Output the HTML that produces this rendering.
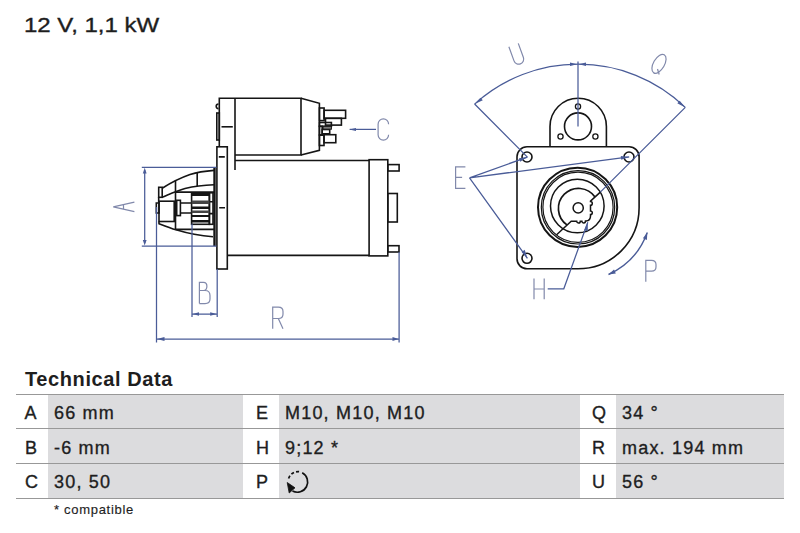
<!DOCTYPE html>
<html><head><meta charset="utf-8">
<style>
html,body{margin:0;padding:0;background:#fff;}
body{width:800px;height:533px;position:relative;overflow:hidden;font-family:"Liberation Sans",sans-serif;color:#1e1e1e;}
.t{position:absolute;white-space:nowrap;line-height:1;-webkit-text-stroke:0.35px #1e1e1e;}
.title{left:24px;top:14.5px;font-size:20px;transform:scaleX(1.2);transform-origin:0 0;}
.h2{left:25px;top:369px;font-size:20px;font-weight:bold;letter-spacing:0.6px;-webkit-text-stroke:0;}
.cell{position:absolute;background:#dcdcde;}
.hl{position:absolute;left:16px;width:767.5px;height:1.2px;background:#989898;}
.v{font-size:18px;letter-spacing:1.2px;}
.note{font-size:13px;letter-spacing:0.7px;-webkit-text-stroke:0.15px #1e1e1e;}
svg{position:absolute;left:0;top:0;}
</style></head>
<body>
<div class="t title">12 V, 1,1 kW</div>
<div class="t h2">Technical Data</div>

<div class="cell" style="left:48px;top:394px;width:194.5px;height:104px"></div>
<div class="cell" style="left:279px;top:394px;width:300.5px;height:104px"></div>
<div class="cell" style="left:616px;top:394px;width:167.5px;height:104px"></div>
<div class="hl" style="top:393.8px"></div>
<div class="hl" style="top:428.3px"></div>
<div class="hl" style="top:463px"></div>
<div class="hl" style="top:497.6px"></div>

<div id="tbl">
<div class="t v" style="left:24.5px;top:404px">A</div>
<div class="t v" style="left:54px;top:404px">66 mm</div>
<div class="t v" style="left:256px;top:404px">E</div>
<div class="t v" style="left:285px;top:404px">M10, M10, M10</div>
<div class="t v" style="left:592px;top:404px">Q</div>
<div class="t v" style="left:622px;top:404px">34 °</div>

<div class="t v" style="left:25px;top:438.8px">B</div>
<div class="t v" style="left:54px;top:438.8px">-6 mm</div>
<div class="t v" style="left:256px;top:438.8px">H</div>
<div class="t v" style="left:285px;top:438.8px">9;12 *</div>
<div class="t v" style="left:592px;top:438.8px">R</div>
<div class="t v" style="left:622px;top:438.8px">max. 194 mm</div>

<div class="t v" style="left:25px;top:472.6px">C</div>
<div class="t v" style="left:54px;top:472.6px">30, 50</div>
<div class="t v" style="left:256px;top:472.6px">P</div>
<div class="t v" style="left:592px;top:472.6px">U</div>
<div class="t v" style="left:622px;top:472.6px">56 °</div>
</div>
<div class="t note" style="left:54px;top:502.8px">* compatible</div>

<svg width="800" height="533" viewBox="0 0 800 533">
<!-- P rotation icon in table -->
<g fill="none" stroke="#111" stroke-width="1.7">
  <path d="M 288.6 478.5 A 10.2 10.2 0 0 1 300.5 471.8" stroke-dasharray="3 2.2"/>
  <path d="M 302.2 472.8 A 10.2 10.2 0 1 1 292.5 491"/>
  <path d="M 287.2 482.5 L 289.2 493 L 295 487.8 Z" fill="#111" stroke-width="0.8"/>
</g>
<!-- ===== SIDE VIEW (black) ===== -->
<g fill="none" stroke="#151515" stroke-width="1.6" stroke-linejoin="miter">
  <!-- solenoid -->
  <path d="M219.3 146.8 V98.3 H301 V155 H235"/>
  <path d="M235 98.3 V170"/>
  <path d="M301 98.3 L319.4 103.3 V150.4 L301 155"/>
  <path d="M221.5 126.8 H232.8"/>
  <path d="M218.5 104 a2.3 2.3 0 0 0 0 4.6" />
  <rect x="216.8" y="113" width="2.5" height="27"/>
  <!-- terminals -->
  <rect x="319.4" y="108" width="4.7" height="12.6"/>
  <rect x="324.1" y="110.3" width="21.5" height="8"/>
  <rect x="325.5" y="118.3" width="15.9" height="6.8"/>
  <rect x="319.4" y="122.5" width="12" height="3.8"/>
  <rect x="322.2" y="129.5" width="7.5" height="4.3"/>
  <rect x="323" y="126.3" width="8.4" height="2.9" fill="#777" stroke-width="1"/>
  <rect x="319.4" y="126.3" width="2.8" height="8.6"/>
  <rect x="319.4" y="135.2" width="4.6" height="10.3"/>
  <rect x="324" y="134.7" width="11.8" height="8"/>
  <!-- flange -->
  <rect x="216.9" y="146.8" width="10.4" height="122.2"/>
  <path d="M218.8 156.9 H224.8 M219.2 207.8 H225"/>
  <!-- motor -->
  <path d="M235 160.5 H369.1 M227.3 255.4 H369.1"/>
  <rect x="369.1" y="159.7" width="18.7" height="96.2"/>
  <rect x="387.8" y="164.6" width="11.3" height="6.4"/>
  <rect x="387.8" y="193.5" width="9.5" height="28.5"/>
  <rect x="387.8" y="245.7" width="11.2" height="6.3"/>
  <!-- nose housing -->
  <path d="M214.5 168 V246" stroke-width="2.4"/>
  <path d="M162.2 188.2 C 172 182, 180 178, 190 174.5 C 198 172, 206 171, 214 170.4"/>
  <path d="M162.2 197.3 C 170 194, 176 191, 185 188.5 C 195 186, 205 185, 214 184.7"/>
  <rect x="158.7" y="187.3" width="3.5" height="10"/>
  <path d="M158.7 197 V203"/>
  <path d="M175.5 180.7 V229.4 M197.2 172.9 V186"/>
  <path d="M175.5 192.1 H214"/>
  <rect x="159" y="201.2" width="15.2" height="20.3"/>
  <path d="M156.3 203 H159 V213 H156.3 Z"/>
  <rect x="176.7" y="200.3" width="3.7" height="15.3"/>
  <path d="M180.4 203 H191.6 M180.4 213 H191.6"/>
  <path d="M175.5 229.4 H214"/>
  <path d="M159 221.5 V223.7 C 165 226, 171 228.3, 176 229.8 C 188 233.5, 200 235.8, 213 236.7"/>
  <rect x="191.6" y="192.8" width="17.8" height="31.5"/>
  <rect x="209.4" y="192.8" width="3.6" height="31.5"/>
  <path d="M209.4 201.8 H213 M209.4 213.6 H213"/>
</g>
<!-- pinion teeth -->
<g fill="#151515">
  <rect x="191.6" y="192.8" width="17.8" height="3.2"/>
  <rect x="191.6" y="200.5" width="17.8" height="3.5" fill="#444"/>
  <rect x="191.6" y="206.5" width="17.8" height="2.5"/>
  <rect x="191.6" y="210.5" width="17.8" height="2.5" fill="#444"/>
  <rect x="191.6" y="215" width="17.8" height="2"/>
  <rect x="191.6" y="220" width="17.8" height="2.5"/>
</g>
<!-- ===== SIDE VIEW dimensions (blue) ===== -->
<g fill="none" stroke="#4a5c98" stroke-width="1.25">
  <path d="M141.8 167.4 H216.5 M141.8 246.1 H216.5"/>
  <path d="M144.7 170 V243"/>
  <path d="M156.5 207 V342.5 M156.5 339 H399.1 M399.1 252 V342.5"/>
  <path d="M192 223.7 V317 M192 314 H217.2 M217.2 269 V317"/>
  <path d="M349.7 129.4 H376"/>
</g>
<g fill="#4a5c98">
  <path d="M144.7 167.8 L142.8 173.5 H146.6 Z"/>
  <path d="M144.7 245.6 L142.8 239.9 H146.6 Z"/>
  <path d="M157 339 L164.5 337.1 V340.9 Z"/>
  <path d="M398.6 339 L392.5 337.1 V340.9 Z"/>
  <path d="M192.5 314 L199 312.2 V315.8 Z"/>
  <path d="M216.7 314 L210.2 312.2 V315.8 Z"/>
  <path d="M349.2 129.4 L356 127.9 V130.9 Z"/>
</g>
<!-- letters (thin) -->
<g fill="none" stroke="#8189ab" stroke-width="1.2">
  <!-- A rotated -->
  <path d="M134.4 202.1 L113.3 206.9 L134.4 211.7 M123.5 204.5 V209.4"/>
  <!-- B -->
  <path d="M199.4 303.6 V282.3 H203.5 Q206.9 282.3 206.9 286.3 Q206.9 290.5 203.5 290.5 H199.4 M203.5 290.5 H205 Q210 290.5 210 295.5 V299 Q210 303.6 205 303.6 H199.4"/>
  <!-- R -->
  <path d="M272.7 328.8 V307.2 H278.3 Q283 307.2 283 311.5 V314.2 Q283 318.5 278.3 318.5 H272.7 M278.3 318.5 L283 328.8"/>
  <!-- C -->
  <path d="M388.6 124.2 A5.25 5.3 0 0 0 378.1 124.2 V134.8 A5.25 5.3 0 0 0 388.6 134.8"/>
</g>

<!-- ===== FRONT VIEW (black) ===== -->
<g fill="none" stroke="#151515" stroke-width="1.6">
  <!-- top lug -->
  <path d="M550 146.8 V126.4 A28.2 28.2 0 0 1 606.4 126.4 V146.8"/>
  <circle cx="578" cy="126.4" r="13.5"/>
  <circle cx="578" cy="106.5" r="2.6" stroke-width="1.3"/>
  <circle cx="560.5" cy="136.5" r="2.6" stroke-width="1.3"/>
  <circle cx="595.4" cy="136.5" r="2.6" stroke-width="1.3"/>
  <!-- flange -->
  <path d="M527 146.8 H629 A10 10 0 0 1 639.1 156.8 V207.5 A61.1 61.1 0 0 1 578 268.8 H527 A10 10 0 0 1 517 258.8 V156.8 A10 10 0 0 1 527 146.8 Z"/>
  <circle cx="527" cy="157" r="5"/>
  <circle cx="629" cy="157" r="5"/>
  <circle cx="527" cy="258.3" r="5"/>
  <!-- rings -->
  <circle cx="577.6" cy="207.3" r="39.6" stroke-width="2"/>
  <circle cx="578" cy="207.3" r="36.7" stroke-width="1.2"/>
  <circle cx="578" cy="207.3" r="35.1" stroke-width="1.2"/>
  <circle cx="577.3" cy="206" r="26.8" stroke-width="1.5"/>
  <path d="M595 197 A20.1 20.1 0 1 0 566.9 224.9" stroke-width="1.7"/>
  <circle cx="578.2" cy="207.9" r="5.1" stroke-width="1.5"/>
  <path d="M600.3 192.1 L590.5 201.1 V201.6 A1.8 1.8 0 0 1 590.5 205.2 V210.9 A1.8 1.8 0 0 1 590.5 214.5 V216 Q590.5 220.8 586 221 H585.5 A1.8 1.8 0 0 1 581.9 221.2 H580.3 A1.8 1.8 0 0 1 576.7 221.3 H571.2 L556.6 234.8" stroke-width="1.5"/>
</g>
<!-- ===== FRONT VIEW blue ===== -->
<g fill="none" stroke="#4a5c98" stroke-width="1.25">
  <path d="M474.6 104.1 A154 154 0 0 1 578 64.2 A154 154 0 0 1 685.3 107.4"/>
  <path d="M578 61.5 V126.4"/>
  <path d="M474.6 104 L527.4 157.1 M685.3 107.4 L600.3 192.1"/>
  <path d="M469.5 177.8 L527.4 157.1 M469.5 177.8 L629.2 156.9 M469.5 177.8 L527.4 258.3"/>
  <path d="M547.7 288.8 H563.8 L587.8 222.3"/>
  <path d="M647.3 232.5 A74 74 0 0 1 608.5 274.5" stroke-width="1.4"/>
</g>
<g fill="#4a5c98">
  <path d="M474.6 104 L482.8 100.2 L480.4 97.8 Z"/>
  <path d="M685.3 107.4 L677.3 103.2 L679.7 100.8 Z"/>
  <path d="M577.3 64.2 L570 62.4 V66 Z"/>
  <path d="M578.7 64.2 L586 62.4 V66 Z"/>
  <path d="M527.4 157.1 L519 158.2 L520.2 161.8 Z"/>
  <path d="M629.2 156.9 L620.8 156 L621.2 159.8 Z"/>
  <path d="M527.4 258.3 L521.6 252 L524.7 249.8 Z"/>
  <path d="M587.8 222.3 L584.2 230 L587.8 231.3 Z"/>
  <path d="M647.3 232.5 L646.9 239.9 L642.9 238.3 Z"/>
  <path d="M608.5 274.5 L615.8 273.6 L614 269.6 Z"/>
</g>
<g fill="none" stroke="#8189ab" stroke-width="1.2">
  <!-- E -->
  <path d="M465.4 166.9 H455.6 V188.3 H465.4 M455.6 177.4 H462.1"/>
  <!-- H -->
  <path d="M534 278.5 V299.2 M544.2 278.5 V299.2 M534 289 H544.2"/>
  <!-- P -->
  <path d="M645.8 281.7 V260.4 H651.5 Q656 260.4 656 264.5 V267 Q656 271.2 651.5 271.2 H645.8"/>
  <!-- U rotated -->
  <path d="M512 44.5 V59.5 A5 5 0 0 0 522 59.5 V44.5" transform="rotate(-20 517 54.5)"/>
  <!-- Q rotated -->
  <ellipse cx="659" cy="63.8" rx="5.5" ry="10.5" transform="rotate(30 659 63.8)"/>
  <path d="M657.5 69 L659.2 74.5"/>
</g>
</svg>
</body></html>
